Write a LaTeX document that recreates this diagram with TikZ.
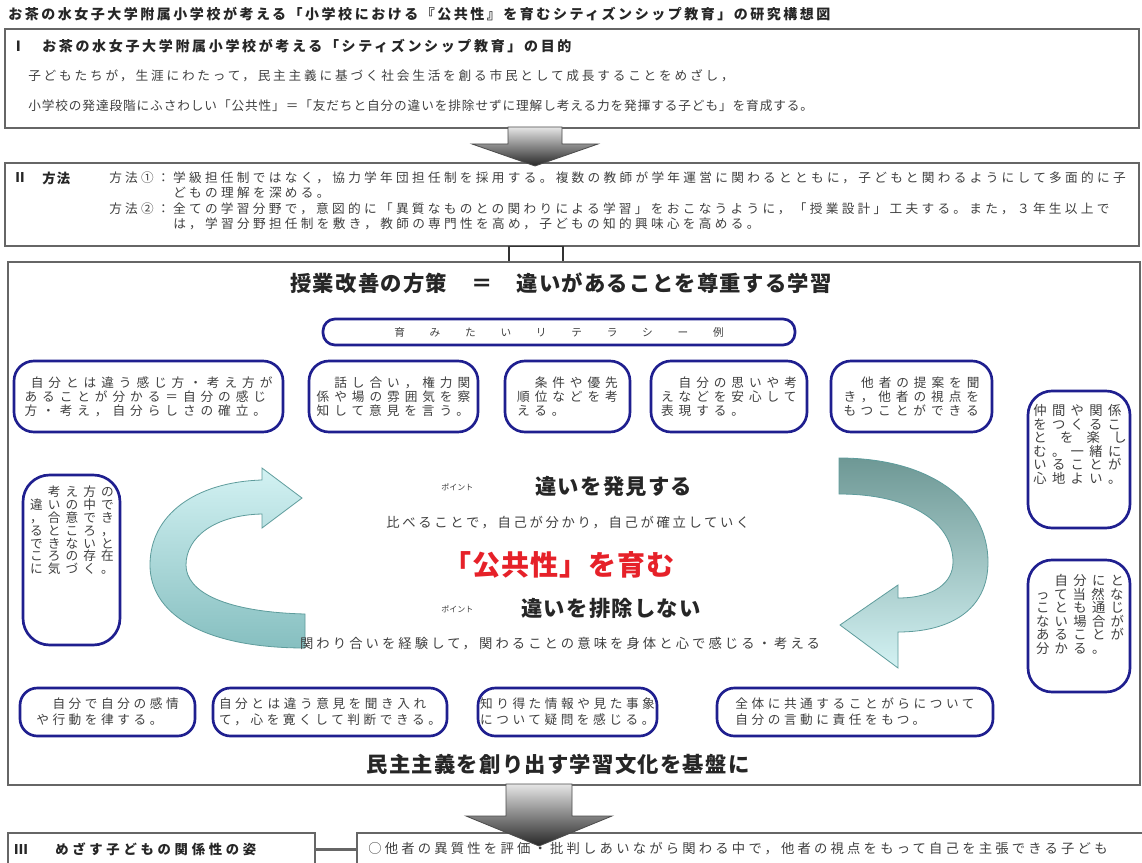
\documentclass[tikz,border=0pt]{standalone}
\usepackage{fontspec}
\setmainfont{Noto Sans CJK JP}
\definecolor{navy}{HTML}{1F1F8F}
\definecolor{txt}{HTML}{404040}
\definecolor{redt}{HTML}{E62129}
\definecolor{cyanL}{HTML}{D3F2F3}
\definecolor{cyanD}{HTML}{86BFC0}
\definecolor{tealD}{HTML}{6E9895}
\definecolor{ribline}{HTML}{5E9C9C}
\newcommand\jfs[3]{\fontsize{#1}{#2}\selectfont\addfontfeature{LetterSpace=#3}}
\tikzset{
  sz/.style 2 args={minimum width={#1*0.75pt}, minimum height={#2*0.75pt}},
  frame/.style={draw=black!60, line width=1.6pt, fill=white, inner sep=0pt},
  bub/.style={draw=navy, line width=2pt, rounded corners=15pt, fill=white, inner sep=0pt, text=txt, align=left},
  btop/.style={font=\jfs{9.5}{10.5}{39}},
  bbot/.style={font=\jfs{9.5}{12}{28}, rounded corners=13pt},
  btxt/.style={inner sep=0pt, text=txt, align=left},
  lbl/.style={anchor=west, inner sep=0pt, text=txt},
  blockarrow/.style={top color=gray!20, bottom color=black!85, draw=black!70, line width=0.6pt},
}
\begin{document}
\begin{tikzpicture}[x=0.75pt,y=-0.75pt]
\useasboundingbox (0,0) rectangle (1142,863);
\clip (0,0) rectangle (1142,863);
\fill[white] (0,0) rectangle (1142,863);

% title
\node[lbl, text=black!85, font=\bfseries\jfs{10.5}{12}{18}] (title) at (8,14) {お茶の水女子大学附属小学校が考える「小学校における『公共性』を育むシティズンシップ教育」の研究構想図};

% box I
\node[frame, sz={1134}{99}] (boxI) at (572,78.5) {};
\node[lbl, text=black!85, font=\bfseries\jfs{10.5}{12}{0}] (nI) at (11,46) {Ⅰ};
\node[lbl, text=black!85, font=\bfseries\jfs{10.5}{12}{19}] (hI) at (42,46) {お茶の水女子大学附属小学校が考える「シティズンシップ教育」の目的};
\node[lbl, font=\jfs{9.5}{11}{22}] (i1) at (28,76) {子どもたちが，生涯にわたって，民主主義に基づく社会生活を創る市民として成長することをめざし，};
\node[lbl, font=\jfs{9.5}{11}{7}] (i2) at (28,106) {小学校の発達段階にふさわしい「公共性」＝「友だちと自分の違いを排除せずに理解し考える力を発揮する子ども」を育成する。};

% box II
\node[frame, sz={1134}{83}] (boxII) at (572,204.5) {};
\node[lbl, text=black!85, font=\bfseries\jfs{10}{12}{0}] (nII) at (13,178) {Ⅱ};
\node[lbl, text=black!85, font=\bfseries\jfs{10}{12}{10}] (hII) at (42,178) {方法};
\node[lbl, font=\jfs{9.5}{11}{26}] (m1a) at (109,178) {方法①：学級担任制ではなく，協力学年団担任制を採用する。複数の教師が学年運営に関わるとともに，子どもと関わるようにして多面的に子};
\node[lbl, font=\jfs{9.5}{11}{26}] (m1b) at (173,193) {どもの理解を深める。};
\node[lbl, font=\jfs{9.5}{11}{26}] (m2a) at (109,209) {方法②：全ての学習分野で，意図的に「異質なものとの関わりによる学習」をおこなうように，「授業設計」工夫する。また，３年生以上で};
\node[lbl, font=\jfs{9.5}{11}{26}] (m2b) at (173,224) {は，学習分野担任制を敷き，教師の専門性を高め，子どもの知的興味心を高める。};

% arrow I -> II
\shadedraw[blockarrow] (508,127) -- (562,127) -- (562,144) -- (598,144) -- (535,166) -- (472,144) -- (508,144) -- cycle;

% pipe between II and big box
\node[draw=black!80, line width=0.8pt, fill=white, inner sep=0pt, sz={54}{16}] (pipe) at (536,254.5) {};

% big box
\node[frame, sz={1132}{523}] (big) at (574,523.5) {};
\node[text=black!85, font=\bfseries\jfs{16}{18}{6}] (head) at (561,283) {授業改善の方策　＝　違いがあることを尊重する学習};
\node[bub, rounded corners=9pt, sz={472}{26}, font=\jfs{8}{9}{0}] (lit) at (559,332) {\makebox[247pt][s]{育\hfill み\hfill た\hfill い\hfill リ\hfill テ\hfill ラ\hfill シ\hfill ー\hfill 例}};

% top bubbles
\node[bub, btop, sz={269}{71}] (t1) at (148.5,396.5) {\hspace*{0.5em}自分とは違う感じ方・考え方が\\あることが分かる＝自分の感じ\\方・考え，自分らしさの確立。};
\node[bub, btop, sz={169}{71}] (t2) at (393.5,396.5) {　話し合い，権力関\\係や場の雰囲気を察\\知して意見を言う。};
\node[bub, btop, sz={125}{71}] (t3) at (567.5,396.5) {　条件や優先\\順位などを考\\える。};
\node[bub, btop, sz={156}{71}] (t4) at (729,396.5) {　自分の思いや考\\えなどを安心して\\表現する。};
\node[bub, btop, sz={161}{71}] (t5) at (911.5,396.5) {　他者の提案を聞\\き，他者の視点を\\もつことができる};

% right bubbles
\node[bub, rounded corners=18pt, sz={102}{137}] (r1) at (1079,459.5) {};
\node[btxt, anchor=north, font=\jfs{10}{10.2}{40}] (r1t) at (1080,404) {仲間や関係\\をつくるこ\\\makebox[70pt][s]{と\hfill を\hfill 楽\hfill し}\\む。一緒に\\いることが\\心地よい。};
\node[bub, rounded corners=18pt, sz={102}{132}] (r2) at (1079,626) {};
\node[btxt, anchor=north, font=\jfs{10}{10.2}{40}] (r2t) at (1080,574) {　自分にと\\って当然な\\ことも通じ\\ない場合が\\あることが\\分かる。};

% left bubble
\node[bub, rounded corners=20pt, sz={97}{170}] (lb) at (71.5,560) {};
\node[btxt, anchor=north, font=\jfs{9.5}{9.6}{40}] (lbt) at (72,486) {　考え方の\\違いの中で\\，合意でき\\るところ，\\できないと\\ころの存在\\に気づく。};

% curved ribbons
\shadedraw[top color=cyanL, bottom color=cyanD, draw=ribline, line width=0.6pt]
  (305,648) .. controls (200,648) and (150,612) .. (150,565)
  .. controls (150,515) and (195,482) .. (262,480) -- (262,468) -- (302,498) -- (262,528) -- (262,514)
  .. controls (215,515) and (186,537) .. (186,565)
  .. controls (186,592) and (225,612) .. (305,614) -- cycle;
\shadedraw[top color=tealD, bottom color=cyanL, draw=ribline, line width=0.6pt]
  (839,458) .. controls (935,458) and (988,505) .. (988,562)
  .. controls (988,610) and (950,632) .. (898,632) -- (898,668) -- (840,625) -- (898,585) -- (898,598)
  .. controls (935,598) and (953,582) .. (953,562)
  .. controls (953,525) and (915,494) .. (839,494) -- cycle;

% centre texts
\node[lbl, font=\jfs{6}{7}{0}] (p1) at (441,487) {ポイント};
\node[lbl, text=black!85, font=\bfseries\jfs{16}{18}{6}] (d1) at (535,486) {違いを発見する};
\node[text=txt, font=\jfs{10}{12}{20}] (c1) at (568,523) {比べることで，自己が分かり，自己が確立していく};
\node[text=redt, font=\bfseries\jfs{21}{24}{4}] (kk) at (559,565) {「公共性」を育む};
\node[lbl, font=\jfs{6}{7}{0}] (p2) at (441,609) {ポイント};
\node[lbl, text=black!85, font=\bfseries\jfs{16}{18}{6}] (d2) at (521,608) {違いを排除しない};
\node[text=txt, font=\jfs{10}{12}{23}] (c2) at (560,644) {関わり合いを経験して，関わることの意味を身体と心で感じる・考える};

% bottom bubbles
\node[bub, bbot, sz={175}{48}] (u1) at (107.5,712) {　自分で自分の感情\\や行動を律する。};
\node[bub, bbot, sz={234}{48}] (u2) at (330,712) {自分とは違う意見を聞き入れ\\て，心を寛くして判断できる。};
\node[bub, bbot, sz={179}{48}] (u3) at (567.5,712) {知り得た情報や見た事象\\について疑問を感じる。};
\node[bub, bbot, sz={276}{48}] (u4) at (855,712) {全体に共通することがらについて\\自分の言動に責任をもつ。};

\node[text=black!85, font=\bfseries\jfs{16}{18}{6}] (base) at (558,764) {民主主義を創り出す学習文化を基盤に};

% box III
\node[frame, sz={307}{33}] (b3l) at (161.5,849.5) {};
\node[frame, sz={800}{33}] (b3r) at (757,849.5) {};
\draw[black!60, line width=1.6pt] (b3l) -- (b3r);
\node[lbl, text=black!85, font=\bfseries\jfs{10}{12}{0}] (n3) at (14,849) {Ⅲ};
\node[lbl, text=black!85, font=\bfseries\jfs{10}{12}{28}] (h3) at (55,849) {めざす子どもの関係性の姿};
\node[lbl, font=\jfs{10}{12}{24}] (t3r) at (368,849) {○他者の異質性を評価・批判しあいながら関わる中で，他者の視点をもって自己を主張できる子ども};

% arrow big box -> III
\shadedraw[blockarrow] (506,784) -- (572,784) -- (572,816) -- (612,816) -- (539,846) -- (466,816) -- (506,816) -- cycle;
\end{tikzpicture}
\end{document}
